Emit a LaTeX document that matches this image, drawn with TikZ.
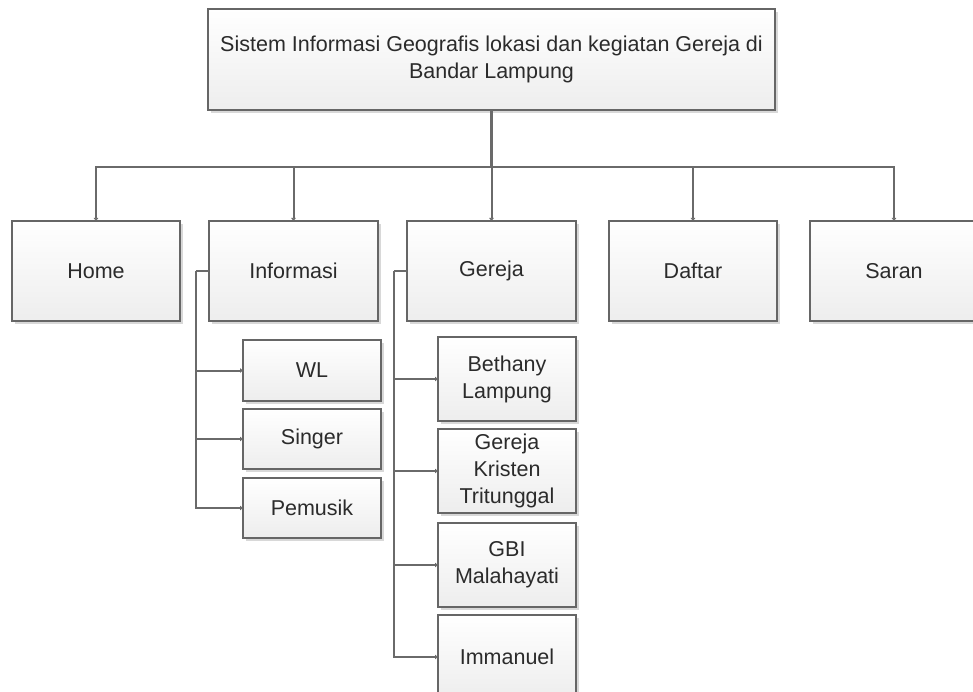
\documentclass[tikz,border=0pt]{standalone}
\usepackage{fontspec}
\setmainfont{Liberation Sans}
\usetikzlibrary{arrows.meta,shadows}
\definecolor{linegray}{HTML}{6A6A6A}
\definecolor{boxborder}{HTML}{666666}
\definecolor{txtgray}{HTML}{2B2B2B}
\definecolor{shadowgray}{HTML}{D8D8D8}
\begin{document}
\begin{tikzpicture}[x=1pt,y=-1pt,
  box/.style={rectangle, draw=boxborder, line width=1.7pt, top color=white, bottom color=black!7,
    text=txtgray, font=\fontsize{21.5}{27}\selectfont, align=center, inner sep=0pt, outer sep=0pt,
    general shadow={fill=shadowgray, shadow xshift=3pt, shadow yshift=-3pt}},
  conn/.style={draw=linegray, line width=2pt},
  arr/.style={conn, -{Triangle[length=3pt,width=4.5pt]}}
]
\useasboundingbox (0,0) rectangle (973,692);
% main box
\node[box, minimum width=567pt, minimum height=101pt] (top) at (491.5,59.5)
  {Sistem Informasi Geografis lokasi dan kegiatan Gereja di\\Bandar Lampung};
% level 1
\node[box, minimum width=168pt, minimum height=100pt] (home) at (96,271) {Home};
\node[box, minimum width=169pt, minimum height=100pt] (info) at (293.5,271) {Informasi};
\node[box, minimum width=169pt, minimum height=100pt] (gereja) at (491.5,271) {Gereja};
\node[box, minimum width=168pt, minimum height=100pt] (daftar) at (693,271) {Daftar};
\node[box, minimum width=168pt, minimum height=100pt] (saran) at (894,271) {Saran};
% Informasi children
\node[box, minimum width=138pt, minimum height=61pt] (wl) at (312,370.5) {WL};
\node[box, minimum width=138pt, minimum height=60pt] (singer) at (312,439) {Singer};
\node[box, minimum width=138pt, minimum height=60pt] (pemusik) at (312,508) {Pemusik};
% Gereja children
\node[box, minimum width=138pt, minimum height=84pt] (bethany) at (507,379) {Bethany\\Lampung};
\node[box, minimum width=138pt, minimum height=84pt] (gkt) at (507,471) {Gereja\\Kristen\\Tritunggal};
\node[box, minimum width=138pt, minimum height=84pt] (gbi) at (507,565) {GBI\\Malahayati};
\node[box, minimum width=138pt, minimum height=84pt] (imm) at (507,657) {Immanuel};
% connectors
\coordinate (bus) at (491.5,167);
\draw[conn, line width=2.4pt] (top.south) -- (bus);
\draw[arr] (bus) -| (home.north);
\draw[arr] (bus) -| (info.north);
\draw[arr] (bus) -- (gereja.north);
\draw[arr] (bus) -| (daftar.north);
\draw[arr] (bus) -| (saran.north);
\coordinate (ib) at (196,271);
\draw[conn] (info.west) -- (ib);
\draw[arr] (ib) |- (wl.west);
\draw[arr] (ib) |- (singer.west);
\draw[arr] (ib) |- (pemusik.west);
\coordinate (gb) at (394,271);
\draw[conn] (gereja.west) -- (gb);
\draw[arr] (gb) |- (bethany.west);
\draw[arr] (gb) |- (gkt.west);
\draw[arr] (gb) |- (gbi.west);
\draw[arr] (gb) |- (imm.west);
\end{tikzpicture}
\end{document}
